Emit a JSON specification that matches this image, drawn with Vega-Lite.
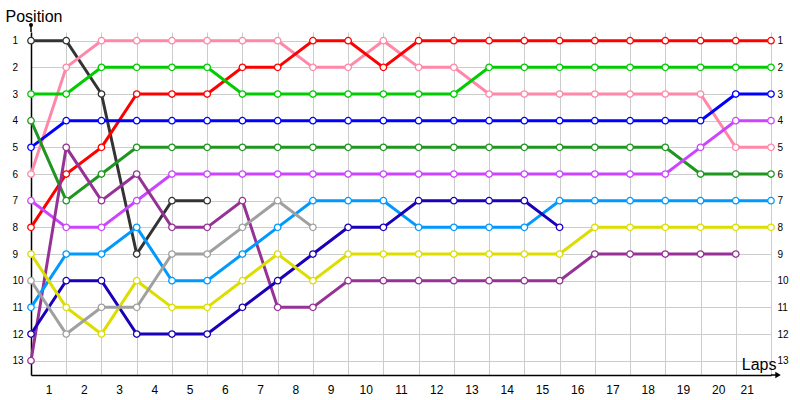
{
  "$schema": "https://vega.github.io/schema/vega-lite/v6.json",
  "width": 740,
  "height": 343,
  "autosize": "none",
  "padding": {"left": 31, "top": 32, "right": 29, "bottom": 25},
  "background": "white",
  "config": {
    "view": {"stroke": null},
    "font": "Liberation Sans",
    "axis": {"labelFont": "Liberation Sans", "titleFont": "Liberation Sans", "labelColor": "black", "titleColor": "black", "titleFontWeight": "normal"}
  },
  "datasets": {
    "laps": [
      {"d": "black", "lap": 0, "pos": 1}, {"d": "black", "lap": 1, "pos": 1}, {"d": "black", "lap": 2, "pos": 3},
      {"d": "black", "lap": 3, "pos": 9}, {"d": "black", "lap": 4, "pos": 7}, {"d": "black", "lap": 5, "pos": 7},

      {"d": "pink", "lap": 0, "pos": 6}, {"d": "pink", "lap": 1, "pos": 2}, {"d": "pink", "lap": 2, "pos": 1},
      {"d": "pink", "lap": 3, "pos": 1}, {"d": "pink", "lap": 4, "pos": 1}, {"d": "pink", "lap": 5, "pos": 1},
      {"d": "pink", "lap": 6, "pos": 1}, {"d": "pink", "lap": 7, "pos": 1}, {"d": "pink", "lap": 8, "pos": 2},
      {"d": "pink", "lap": 9, "pos": 2}, {"d": "pink", "lap": 10, "pos": 1}, {"d": "pink", "lap": 11, "pos": 2},
      {"d": "pink", "lap": 12, "pos": 2}, {"d": "pink", "lap": 13, "pos": 3}, {"d": "pink", "lap": 14, "pos": 3},
      {"d": "pink", "lap": 15, "pos": 3}, {"d": "pink", "lap": 16, "pos": 3}, {"d": "pink", "lap": 17, "pos": 3},
      {"d": "pink", "lap": 18, "pos": 3}, {"d": "pink", "lap": 19, "pos": 3}, {"d": "pink", "lap": 20, "pos": 5},
      {"d": "pink", "lap": 21, "pos": 5},

      {"d": "red", "lap": 0, "pos": 8}, {"d": "red", "lap": 1, "pos": 6}, {"d": "red", "lap": 2, "pos": 5},
      {"d": "red", "lap": 3, "pos": 3}, {"d": "red", "lap": 4, "pos": 3}, {"d": "red", "lap": 5, "pos": 3},
      {"d": "red", "lap": 6, "pos": 2}, {"d": "red", "lap": 7, "pos": 2}, {"d": "red", "lap": 8, "pos": 1},
      {"d": "red", "lap": 9, "pos": 1}, {"d": "red", "lap": 10, "pos": 2}, {"d": "red", "lap": 11, "pos": 1},
      {"d": "red", "lap": 12, "pos": 1}, {"d": "red", "lap": 13, "pos": 1}, {"d": "red", "lap": 14, "pos": 1},
      {"d": "red", "lap": 15, "pos": 1}, {"d": "red", "lap": 16, "pos": 1}, {"d": "red", "lap": 17, "pos": 1},
      {"d": "red", "lap": 18, "pos": 1}, {"d": "red", "lap": 19, "pos": 1}, {"d": "red", "lap": 20, "pos": 1},
      {"d": "red", "lap": 21, "pos": 1},

      {"d": "green", "lap": 0, "pos": 3}, {"d": "green", "lap": 1, "pos": 3}, {"d": "green", "lap": 2, "pos": 2},
      {"d": "green", "lap": 3, "pos": 2}, {"d": "green", "lap": 4, "pos": 2}, {"d": "green", "lap": 5, "pos": 2},
      {"d": "green", "lap": 6, "pos": 3}, {"d": "green", "lap": 7, "pos": 3}, {"d": "green", "lap": 8, "pos": 3},
      {"d": "green", "lap": 9, "pos": 3}, {"d": "green", "lap": 10, "pos": 3}, {"d": "green", "lap": 11, "pos": 3},
      {"d": "green", "lap": 12, "pos": 3}, {"d": "green", "lap": 13, "pos": 2}, {"d": "green", "lap": 14, "pos": 2},
      {"d": "green", "lap": 15, "pos": 2}, {"d": "green", "lap": 16, "pos": 2}, {"d": "green", "lap": 17, "pos": 2},
      {"d": "green", "lap": 18, "pos": 2}, {"d": "green", "lap": 19, "pos": 2}, {"d": "green", "lap": 20, "pos": 2},
      {"d": "green", "lap": 21, "pos": 2},

      {"d": "blue", "lap": 0, "pos": 5}, {"d": "blue", "lap": 1, "pos": 4}, {"d": "blue", "lap": 2, "pos": 4},
      {"d": "blue", "lap": 3, "pos": 4}, {"d": "blue", "lap": 4, "pos": 4}, {"d": "blue", "lap": 5, "pos": 4},
      {"d": "blue", "lap": 6, "pos": 4}, {"d": "blue", "lap": 7, "pos": 4}, {"d": "blue", "lap": 8, "pos": 4},
      {"d": "blue", "lap": 9, "pos": 4}, {"d": "blue", "lap": 10, "pos": 4}, {"d": "blue", "lap": 11, "pos": 4},
      {"d": "blue", "lap": 12, "pos": 4}, {"d": "blue", "lap": 13, "pos": 4}, {"d": "blue", "lap": 14, "pos": 4},
      {"d": "blue", "lap": 15, "pos": 4}, {"d": "blue", "lap": 16, "pos": 4}, {"d": "blue", "lap": 17, "pos": 4},
      {"d": "blue", "lap": 18, "pos": 4}, {"d": "blue", "lap": 19, "pos": 4}, {"d": "blue", "lap": 20, "pos": 3},
      {"d": "blue", "lap": 21, "pos": 3},

      {"d": "darkgreen", "lap": 0, "pos": 4}, {"d": "darkgreen", "lap": 1, "pos": 7}, {"d": "darkgreen", "lap": 2, "pos": 6},
      {"d": "darkgreen", "lap": 3, "pos": 5}, {"d": "darkgreen", "lap": 4, "pos": 5}, {"d": "darkgreen", "lap": 5, "pos": 5},
      {"d": "darkgreen", "lap": 6, "pos": 5}, {"d": "darkgreen", "lap": 7, "pos": 5}, {"d": "darkgreen", "lap": 8, "pos": 5},
      {"d": "darkgreen", "lap": 9, "pos": 5}, {"d": "darkgreen", "lap": 10, "pos": 5}, {"d": "darkgreen", "lap": 11, "pos": 5},
      {"d": "darkgreen", "lap": 12, "pos": 5}, {"d": "darkgreen", "lap": 13, "pos": 5}, {"d": "darkgreen", "lap": 14, "pos": 5},
      {"d": "darkgreen", "lap": 15, "pos": 5}, {"d": "darkgreen", "lap": 16, "pos": 5}, {"d": "darkgreen", "lap": 17, "pos": 5},
      {"d": "darkgreen", "lap": 18, "pos": 5}, {"d": "darkgreen", "lap": 19, "pos": 6}, {"d": "darkgreen", "lap": 20, "pos": 6},
      {"d": "darkgreen", "lap": 21, "pos": 6},

      {"d": "violet", "lap": 0, "pos": 7}, {"d": "violet", "lap": 1, "pos": 8}, {"d": "violet", "lap": 2, "pos": 8},
      {"d": "violet", "lap": 3, "pos": 7}, {"d": "violet", "lap": 4, "pos": 6}, {"d": "violet", "lap": 5, "pos": 6},
      {"d": "violet", "lap": 6, "pos": 6}, {"d": "violet", "lap": 7, "pos": 6}, {"d": "violet", "lap": 8, "pos": 6},
      {"d": "violet", "lap": 9, "pos": 6}, {"d": "violet", "lap": 10, "pos": 6}, {"d": "violet", "lap": 11, "pos": 6},
      {"d": "violet", "lap": 12, "pos": 6}, {"d": "violet", "lap": 13, "pos": 6}, {"d": "violet", "lap": 14, "pos": 6},
      {"d": "violet", "lap": 15, "pos": 6}, {"d": "violet", "lap": 16, "pos": 6}, {"d": "violet", "lap": 17, "pos": 6},
      {"d": "violet", "lap": 18, "pos": 6}, {"d": "violet", "lap": 19, "pos": 5}, {"d": "violet", "lap": 20, "pos": 4},
      {"d": "violet", "lap": 21, "pos": 4},

      {"d": "purple", "lap": 0, "pos": 13}, {"d": "purple", "lap": 1, "pos": 5}, {"d": "purple", "lap": 2, "pos": 7},
      {"d": "purple", "lap": 3, "pos": 6}, {"d": "purple", "lap": 4, "pos": 8}, {"d": "purple", "lap": 5, "pos": 8},
      {"d": "purple", "lap": 6, "pos": 7}, {"d": "purple", "lap": 7, "pos": 11}, {"d": "purple", "lap": 8, "pos": 11},
      {"d": "purple", "lap": 9, "pos": 10}, {"d": "purple", "lap": 10, "pos": 10}, {"d": "purple", "lap": 11, "pos": 10},
      {"d": "purple", "lap": 12, "pos": 10}, {"d": "purple", "lap": 13, "pos": 10}, {"d": "purple", "lap": 14, "pos": 10},
      {"d": "purple", "lap": 15, "pos": 10}, {"d": "purple", "lap": 16, "pos": 9}, {"d": "purple", "lap": 17, "pos": 9},
      {"d": "purple", "lap": 18, "pos": 9}, {"d": "purple", "lap": 19, "pos": 9}, {"d": "purple", "lap": 20, "pos": 9},

      {"d": "lightblue", "lap": 0, "pos": 11}, {"d": "lightblue", "lap": 1, "pos": 9}, {"d": "lightblue", "lap": 2, "pos": 9},
      {"d": "lightblue", "lap": 3, "pos": 8}, {"d": "lightblue", "lap": 4, "pos": 10}, {"d": "lightblue", "lap": 5, "pos": 10},
      {"d": "lightblue", "lap": 6, "pos": 9}, {"d": "lightblue", "lap": 7, "pos": 8}, {"d": "lightblue", "lap": 8, "pos": 7},
      {"d": "lightblue", "lap": 9, "pos": 7}, {"d": "lightblue", "lap": 10, "pos": 7}, {"d": "lightblue", "lap": 11, "pos": 8},
      {"d": "lightblue", "lap": 12, "pos": 8}, {"d": "lightblue", "lap": 13, "pos": 8}, {"d": "lightblue", "lap": 14, "pos": 8},
      {"d": "lightblue", "lap": 15, "pos": 7}, {"d": "lightblue", "lap": 16, "pos": 7}, {"d": "lightblue", "lap": 17, "pos": 7},
      {"d": "lightblue", "lap": 18, "pos": 7}, {"d": "lightblue", "lap": 19, "pos": 7}, {"d": "lightblue", "lap": 20, "pos": 7},
      {"d": "lightblue", "lap": 21, "pos": 7},

      {"d": "navy", "lap": 0, "pos": 12}, {"d": "navy", "lap": 1, "pos": 10}, {"d": "navy", "lap": 2, "pos": 10},
      {"d": "navy", "lap": 3, "pos": 12}, {"d": "navy", "lap": 4, "pos": 12}, {"d": "navy", "lap": 5, "pos": 12},
      {"d": "navy", "lap": 6, "pos": 11}, {"d": "navy", "lap": 7, "pos": 10}, {"d": "navy", "lap": 8, "pos": 9},
      {"d": "navy", "lap": 9, "pos": 8}, {"d": "navy", "lap": 10, "pos": 8}, {"d": "navy", "lap": 11, "pos": 7},
      {"d": "navy", "lap": 12, "pos": 7}, {"d": "navy", "lap": 13, "pos": 7}, {"d": "navy", "lap": 14, "pos": 7},
      {"d": "navy", "lap": 15, "pos": 8},

      {"d": "yellow", "lap": 0, "pos": 9}, {"d": "yellow", "lap": 1, "pos": 11}, {"d": "yellow", "lap": 2, "pos": 12},
      {"d": "yellow", "lap": 3, "pos": 10}, {"d": "yellow", "lap": 4, "pos": 11}, {"d": "yellow", "lap": 5, "pos": 11},
      {"d": "yellow", "lap": 6, "pos": 10}, {"d": "yellow", "lap": 7, "pos": 9}, {"d": "yellow", "lap": 8, "pos": 10},
      {"d": "yellow", "lap": 9, "pos": 9}, {"d": "yellow", "lap": 10, "pos": 9}, {"d": "yellow", "lap": 11, "pos": 9},
      {"d": "yellow", "lap": 12, "pos": 9}, {"d": "yellow", "lap": 13, "pos": 9}, {"d": "yellow", "lap": 14, "pos": 9},
      {"d": "yellow", "lap": 15, "pos": 9}, {"d": "yellow", "lap": 16, "pos": 8}, {"d": "yellow", "lap": 17, "pos": 8},
      {"d": "yellow", "lap": 18, "pos": 8}, {"d": "yellow", "lap": 19, "pos": 8}, {"d": "yellow", "lap": 20, "pos": 8},
      {"d": "yellow", "lap": 21, "pos": 8},

      {"d": "gray", "lap": 0, "pos": 10}, {"d": "gray", "lap": 1, "pos": 12}, {"d": "gray", "lap": 2, "pos": 11},
      {"d": "gray", "lap": 3, "pos": 11}, {"d": "gray", "lap": 4, "pos": 9}, {"d": "gray", "lap": 5, "pos": 9},
      {"d": "gray", "lap": 6, "pos": 8}, {"d": "gray", "lap": 7, "pos": 7}, {"d": "gray", "lap": 8, "pos": 8}
    ]
  },
  "data": {"name": "laps"},
  "layer": [
    {
      "encoding": {
        "x": {
          "field": "lap", "type": "quantitative",
          "scale": {"domain": [0, 21], "nice": false, "zero": false},
          "axis": {
            "values": [0,1,2,3,4,5,6,7,8,9,10,11,12,13,14,15,16,17,18,19,20,21],
            "labelExpr": "datum.value == 0 ? '' : datum.label",
            "labelOffset": -17.6, "labelPadding": 9, "labelFontSize": 12,
            "ticks": false, "tickSize": 0,
            "grid": true, "gridColor": "#cccccc", "gridWidth": 1,
            "domainColor": "black", "domainWidth": 1.5,
            "title": "Laps", "titleFontSize": 16, "titleAlign": "right", "titleBaseline": "alphabetic",
            "titleAnchor": null, "titleX": 745, "titleY": -6
          }
        },
        "y": {
          "field": "pos", "type": "quantitative",
          "scale": {"domain": [0.674, 13.536], "reverse": true, "nice": false, "zero": false},
          "axis": {
            "orient": "left",
            "values": [1,2,3,4,5,6,7,8,9,10,11,12,13],
            "labelAlign": "left", "labelPadding": 19, "labelFontSize": 10,
            "ticks": false, "tickSize": 0,
            "grid": true, "gridColor": "#cccccc", "gridWidth": 1,
            "domainColor": "black", "domainWidth": 1.5,
            "title": "Position", "titleFontSize": 16, "titleAngle": 0, "titleAlign": "left",
            "titleBaseline": "alphabetic", "titleAnchor": null, "titleX": -26, "titleY": -11
          }
        },
        "color": {
          "field": "d", "type": "nominal", "legend": null,
          "scale": {
            "domain": ["black", "gray", "navy", "yellow", "lightblue", "purple", "violet", "darkgreen", "blue", "green", "red", "pink"],
            "range": ["#333333", "#a0a0a0", "#1a00b8", "#dddd00", "#0099ff", "#963296", "#cc44ff", "#1f961f", "#0000ff", "#00cc00", "#ff0000", "#ff88aa"]
          }
        }
      },
      "layer": [
        {
          "mark": {"type": "line", "strokeWidth": 3, "interpolate": "linear"},
          "encoding": {"order": {"field": "lap"}}
        },
        {
          "mark": {"type": "point", "filled": false, "fill": "white", "size": 42, "strokeWidth": 1.3, "opacity": 1}
        },
        {
          "transform": [{"filter": "datum.d == 'black' && datum.lap == 0"}],
          "mark": {"type": "rule", "strokeWidth": 1.5},
          "encoding": {
            "x": {"datum": 21, "type": "quantitative"}, "x2": {"datum": 21.2},
            "y": {"datum": 13.536, "type": "quantitative"},
            "color": {"value": "black"}
          }
        },
        {
          "transform": [{"filter": "datum.d == 'black' && datum.lap == 0"}],
          "mark": {"type": "point", "shape": "triangle-right", "filled": true, "size": 40, "opacity": 1},
          "encoding": {
            "x": {"datum": 21.2, "type": "quantitative"},
            "y": {"datum": 13.536, "type": "quantitative"},
            "color": {"value": "black"}
          }
        },
        {
          "transform": [{"filter": "datum.d == 'black' && datum.lap == 0"}],
          "mark": {"type": "rule", "strokeWidth": 1.5},
          "encoding": {
            "x": {"datum": 0, "type": "quantitative"},
            "y": {"datum": 0.41, "type": "quantitative"}, "y2": {"datum": 0.674},
            "color": {"value": "black"}
          }
        },
        {
          "transform": [{"filter": "datum.d == 'black' && datum.lap == 0"}],
          "mark": {"type": "circle", "size": 16, "opacity": 1},
          "encoding": {
            "x": {"datum": 0, "type": "quantitative"},
            "y": {"datum": 0.41, "type": "quantitative"},
            "color": {"value": "black"}
          }
        }
      ]
    },
    {
      "mark": {"type": "point", "opacity": 0, "size": 0},
      "encoding": {
        "y": {
          "field": "pos", "type": "quantitative",
          "axis": {
            "orient": "right", "values": [1,2,3,4,5,6,7,8,9,10,11,12,13],
            "labelAlign": "left", "labelPadding": 6, "labelFontSize": 10,
            "ticks": false, "tickSize": 0, "domain": false, "grid": false, "title": null
          }
        }
      }
    }
  ],
  "resolve": {"axis": {"y": "independent"}}
}
